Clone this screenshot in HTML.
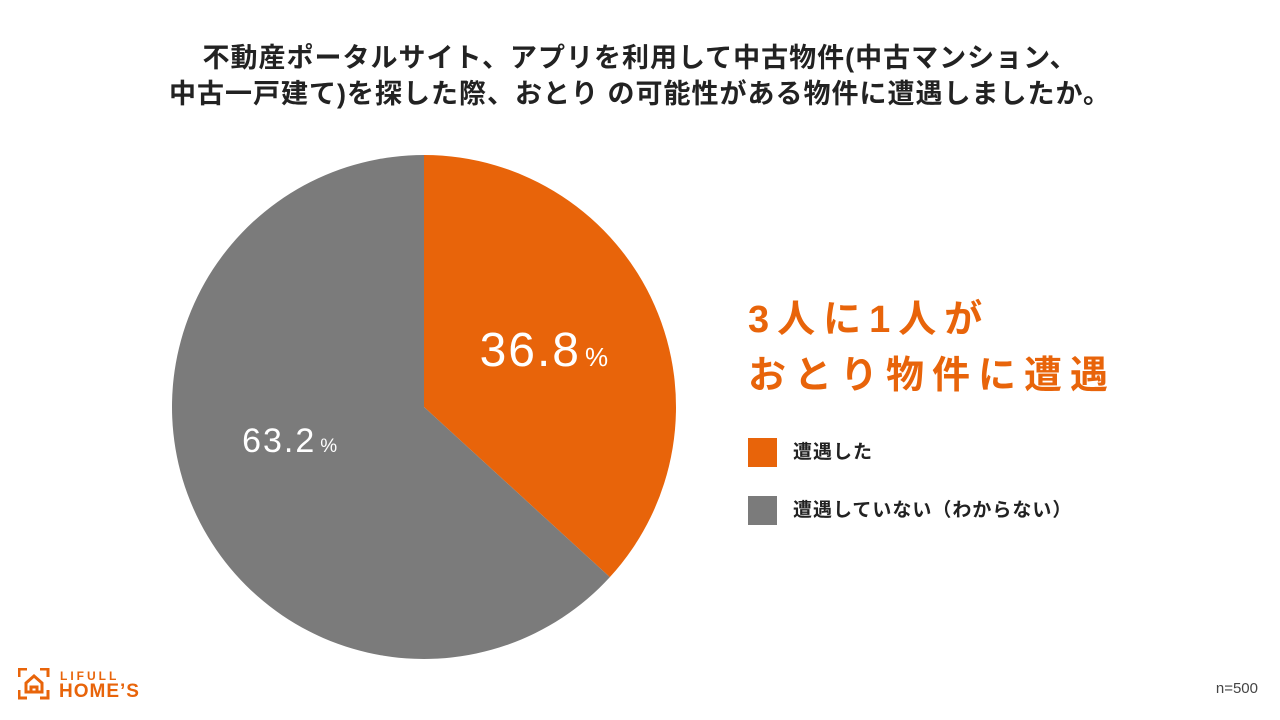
<!DOCTYPE html>
<html><head><meta charset="utf-8"><style>
body{margin:0;width:1280px;height:720px;background:#fff;overflow:hidden;position:relative;font-family:"Liberation Sans","Noto Sans CJK JP",sans-serif;color:#222}
.t{position:absolute;left:0;width:1280px;text-align:center;font-size:27px;font-weight:bold;line-height:36px;letter-spacing:1px}
.abs{position:absolute}
</style></head><body>
<div class="t" style="top:40px">不動産ポータルサイト、アプリを利用して中古物件(中古マンション、<br>中古一戸建て)を探した際、おとり の可能性がある物件に遭遇しましたか。</div>
<svg class="abs" style="left:0;top:0" width="1280" height="720">
<g id="pie"></g>
</svg>
<div class="abs" style="left:748px;top:292px;font-size:38px;font-weight:bold;color:#E8640A;line-height:56px;letter-spacing:8px">3人に1人が<br>おとり物件に遭遇</div>
<div class="abs" style="left:748px;top:438px;font-size:19px;font-weight:bold;line-height:30px;letter-spacing:1px"><span style="display:inline-block;width:29px;height:29px;background:#E8640A;vertical-align:top;margin-right:16px"></span>遭遇した</div>
<div class="abs" style="left:748px;top:496px;font-size:19px;font-weight:bold;line-height:30px;letter-spacing:1px"><span style="display:inline-block;width:29px;height:29px;background:#7B7B7B;vertical-align:top;margin-right:16px"></span>遭遇していない（わからない）</div>
<div class="abs" style="right:22px;top:680px;font-size:15px;color:#444">n=500</div>
<div class="abs" style="left:18px;top:666px">
<svg width="32" height="32" style="position:absolute;left:0;top:2px"><g fill="none" stroke="#E8640A" stroke-width="3"><path d="M1 9V1h8M22 1h8v8M30 22v8h-8M9 30H1v-8"/><path d="M8 24V15l8-7 8 7v9zM13 24v-5h6v5"/></g></svg>
<div style="position:absolute;left:42px;top:3px;font-size:12px;font-weight:bold;color:#E8640A;letter-spacing:3px">LIFULL</div>
<div style="position:absolute;left:41px;top:15px;font-size:19px;font-weight:bold;color:#E8640A;letter-spacing:1px;white-space:nowrap">HOME’S</div>
</div>
<script>
const categories=["遭遇した","遭遇していない（わからない）"];
const values=[36.8,63.2];
const labels=["36.8","63.2"];
const colors=["#E8640A","#7B7B7B"];
const cx=424,cy=407,r=252;
const g=document.getElementById('pie');
const ns="http://www.w3.org/2000/svg";
const total=values.reduce((a,b)=>a+b,0);
let a0=0;
function pt(a,rr){return [cx+rr*Math.sin(a),cy-rr*Math.cos(a)];}
values.forEach((v,i)=>{
  const a1=a0+v/total*2*Math.PI;
  const p0=pt(a0,r),p1=pt(a1,r);
  const large=(a1-a0)>Math.PI?1:0;
  const path=document.createElementNS(ns,'path');
  path.setAttribute('d',`M${cx},${cy}L${p0[0]},${p0[1]}A${r},${r} 0 ${large} 1 ${p1[0]},${p1[1]}Z`);
  path.setAttribute('fill',colors[i]);
  
  
  g.appendChild(path);
  const mid=(a0+a1)/2;
  const lp=pt(mid,i==0?r*0.55:r*0.6);
  const big=i==0;
  const t=document.createElementNS(ns,'text');
  t.setAttribute('x',lp[0]+(big?-6:5));t.setAttribute('y',lp[1]+(big?15:-16));
  t.setAttribute('text-anchor','middle');t.setAttribute('fill','#fff');
  t.setAttribute('font-family','Liberation Sans, sans-serif');
  t.setAttribute('font-size',big?48:34);
  t.setAttribute('letter-spacing','2');
  t.textContent=labels[i];
  const ts=document.createElementNS(ns,'tspan');
  ts.setAttribute('font-size',big?26:19);ts.setAttribute('dx','4');
  ts.textContent='%';t.appendChild(ts);
  
  
  g.appendChild(t);
  a0=a1;
});
</script>
</body></html>
